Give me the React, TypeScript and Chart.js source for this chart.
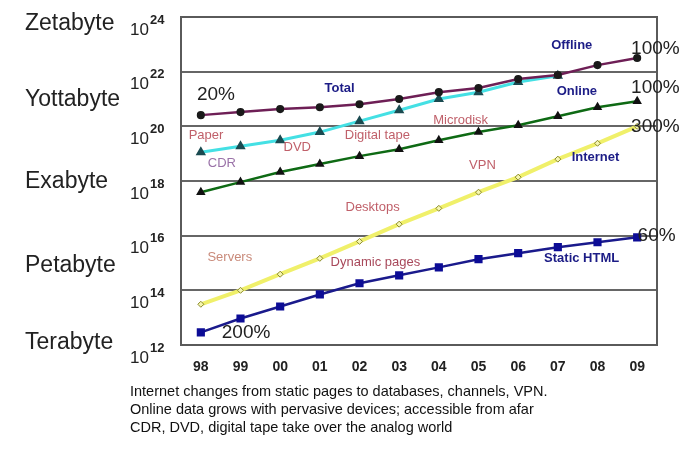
import React, { useEffect, useRef } from "react";
import { Chart, registerables } from "chart.js";

Chart.register(...registerables);

// ---------- data (values are log10 of bytes) ----------
const years = ["98", "99", "00", "01", "02", "03", "04", "05", "06", "07", "08", "09"];
const totalOffline = [20.41, 20.52, 20.63, 20.7, 20.81, 21.0, 21.25, 21.4, 21.73, 21.88, 22.24, 22.5];
const paperCdrDvd = [19.05, 19.27, 19.49, 19.79, 20.19, 20.59, 21.0, 21.25, 21.62, 21.85, null, null];
const online = [17.59, 17.96, 18.33, 18.62, 18.91, 19.16, 19.49, 19.79, 20.04, 20.37, 20.7, 20.92];
const internet = [13.49, 14.0, 14.59, 15.17, 15.79, 16.42, 17.0, 17.59, 18.14, 18.8, 19.38, 20.0];
const staticHtml = [12.46, 12.97, 13.41, 13.85, 14.26, 14.55, 14.84, 15.14, 15.36, 15.58, 15.76, 15.94];

const exponentTicks = [12, 14, 16, 18, 20, 22, 24];
const unitNames = ["Zetabyte", "Yottabyte", "Exabyte", "Petabyte", "Terabyte"];
const unitLevels = [23.75, 20.96, 17.99, 14.92, 12.1];

const captionLines = [
  "Internet changes from static pages to databases, channels, VPN.",
  "Online data grows with pervasive devices; accessible from afar",
  "CDR, DVD, digital tape take over the analog world",
];

// annotation texts with their category position and level
const noteTexts = ["20%", "Total", "Offline", "100%", "Online", "100%", "300%", "Internet", "Paper", "CDR", "DVD", "Digital tape", "Microdisk", "VPN", "Desktops", "Servers", "Dynamic pages", "Static HTML", "200%", "60%"];
const noteKinds = ["pct", "series", "series", "pct", "series", "pct", "pct", "series", "media", "media2", "media", "media", "media", "media", "media", "media3", "media4", "series", "pct", "pct"];
const notePos = [0.38, 3.5, 9.35, 11.46, 9.48, 11.46, 11.46, 9.95, 0.13, 0.53, 2.43, 4.45, 6.55, 7.1, 4.33, 0.73, 4.4, 9.6, 1.14, 11.49];
const noteLevel = [21.14, 21.4, 22.97, 22.85, 21.29, 21.4, 19.97, 18.87, 19.68, 18.65, 19.24, 19.68, 20.23, 18.58, 17.04, 15.21, 15.03, 15.17, 12.46, 16.0];

const FAMILY = 'Arial, "Liberation Sans", Helvetica, sans-serif';

const kindStyle: Record<string, { font: string; color: string }> = {
  pct: { font: `19px ${FAMILY}`, color: "#222" },
  series: { font: `bold 13px ${FAMILY}`, color: "#1c1c86" },
  media: { font: `13px ${FAMILY}`, color: "#c0606a" },
  media2: { font: `13px ${FAMILY}`, color: "#9a72a8" },
  media3: { font: `13px ${FAMILY}`, color: "#c98a7a" },
  media4: { font: `13px ${FAMILY}`, color: "#a8485a" },
};

const decorPlugin = {
  id: "decor",
  beforeDatasetsDraw(chart: any) {
    const { ctx, chartArea } = chart;
    ctx.save();
    ctx.strokeStyle = "#5a5a5a";
    ctx.lineWidth = 2;
    ctx.strokeRect(chartArea.left, chartArea.top, chartArea.right - chartArea.left, chartArea.bottom - chartArea.top);
    ctx.restore();
  },
  afterDatasetsDraw(chart: any) {
    const { ctx } = chart;
    const x = chart.scales.x;
    const y = chart.scales.y;
    ctx.save();
    ctx.textAlign = "center";
    ctx.textBaseline = "middle";
    noteTexts.forEach((t, i) => {
      const st = kindStyle[noteKinds[i]];
      ctx.font = st.font;
      ctx.fillStyle = st.color;
      const px = x.getPixelForValue(0) + notePos[i] * (x.getPixelForValue(1) - x.getPixelForValue(0));
      ctx.fillText(t, px, y.getPixelForValue(noteLevel[i]));
    });
    ctx.restore();
  },
  afterDraw(chart: any) {
    const { ctx } = chart;
    const y = chart.scales.y;
    ctx.save();
    ctx.fillStyle = "#222";
    ctx.textBaseline = "middle";
    exponentTicks.forEach((e) => {
      const py = y.getPixelForValue(e);
      ctx.font = `17px ${FAMILY}`;
      ctx.textAlign = "right";
      ctx.fillText("10", 149, py + 13);
      ctx.font = `bold 13px ${FAMILY}`;
      ctx.textAlign = "left";
      ctx.fillText(String(e), 150, py + 3);
    });
    ctx.font = `23px ${FAMILY}`;
    ctx.textAlign = "left";
    unitNames.forEach((n, i) => {
      ctx.fillText(n, 25, y.getPixelForValue(unitLevels[i]));
    });
    ctx.font = `14.5px ${FAMILY}`;
    ctx.fillStyle = "#111";
    captionLines.forEach((l, i) => {
      ctx.fillText(l, 130, 392 + i * 18);
    });
    ctx.restore();
  },
};

export default function App() {
  const ref = useRef<HTMLCanvasElement>(null);
  useEffect(() => {
    if (!ref.current) return;
    const chart = new Chart(ref.current, {
      type: "line",
      data: {
        labels: years,
        datasets: [
          {
            label: "Total / Offline",
            data: totalOffline,
            borderColor: "#6e1f56",
            borderWidth: 2.5,
            pointStyle: "circle",
            pointRadius: 2.8,
            pointBackgroundColor: "#1a1a1a",
            pointBorderColor: "#1a1a1a",
            tension: 0,
          },
          {
            label: "Paper / CDR / DVD",
            data: paperCdrDvd,
            borderColor: "#44e0e4",
            borderWidth: 3,
            pointStyle: "triangle",
            pointRadius: 3,
            pointBackgroundColor: "#2a7a80",
            pointBorderColor: "#1a4a50",
            tension: 0,
          },
          {
            label: "Online",
            data: online,
            borderColor: "#0e6a14",
            borderWidth: 2.5,
            pointStyle: "triangle",
            pointRadius: 3,
            pointBackgroundColor: "#111",
            pointBorderColor: "#111",
            tension: 0,
          },
          {
            label: "Internet",
            data: internet,
            borderColor: "#f0f06a",
            borderWidth: 4,
            pointStyle: "rectRot",
            pointRadius: 3,
            pointBackgroundColor: "#f6f6b0",
            pointBorderColor: "#8a8a2a",
            pointBorderWidth: 1,
            tension: 0,
          },
          {
            label: "Static HTML",
            data: staticHtml,
            borderColor: "#1a1a8c",
            borderWidth: 2.5,
            pointStyle: "rect",
            pointRadius: 4,
            pointBackgroundColor: "#0c0c96",
            pointBorderColor: "#0c0c96",
            tension: 0,
          },
        ],
      },
      options: {
        responsive: false,
        animation: false,
        layout: { padding: { top: 17, right: 25, left: 0, bottom: 0 } },
        plugins: { legend: { display: false }, tooltip: { enabled: false } },
        scales: {
          x: {
            type: "category",
            offset: true,
            grid: { display: false, drawTicks: false },
            border: { display: false },
            ticks: { font: { family: FAMILY, size: 14, weight: "bold" }, color: "#222", padding: 14 },
            afterFit: (s: any) => {
              s.height = 104;
            },
          },
          y: {
            min: 12,
            max: 24,
            ticks: { stepSize: 2, display: false },
            grid: { color: "#666", lineWidth: 2, drawTicks: false },
            border: { display: false },
            afterFit: (s: any) => {
              s.width = 181;
            },
          },
        },
      },
      plugins: [decorPlugin],
    } as any);
    return () => chart.destroy();
  }, []);
  return (
    <div style={{ position: "absolute", left: 0, top: 0, width: 682, height: 449, background: "#fff" }}>
      <canvas ref={ref} width={682} height={449} style={{ display: "block" }} />
    </div>
  );
}
